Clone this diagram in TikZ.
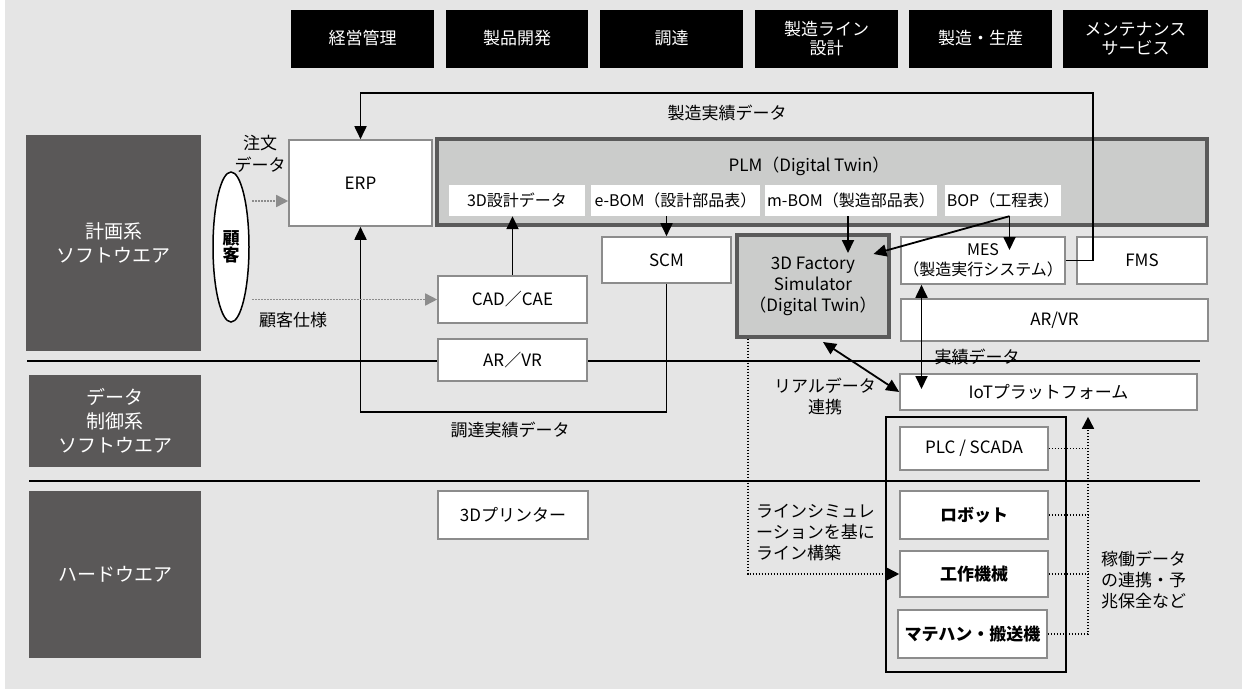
\documentclass[tikz,border=0pt]{standalone}
\usepackage{fontspec}
\setmainfont{Noto Sans CJK JP}
\usetikzlibrary{arrows.meta,shapes.geometric}
\definecolor{bg}{HTML}{E5E5E5}
\definecolor{darkbox}{HTML}{5A5858}
\definecolor{boxgray}{HTML}{8C8C8C}
\definecolor{plmfill}{HTML}{CBCCCB}
\definecolor{plmborder}{HTML}{5A5A5A}
\begin{document}
\begin{tikzpicture}[x=1pt,y=-1pt,
  every node/.style={inner sep=0pt, font=\fontsize{17}{21}\selectfont},
  hbox/.style={fill=black, text=white, minimum height=58, align=center, font=\fontsize{17}{19}\selectfont},
  lbox/.style={fill=darkbox, text=white, align=center, font=\fontsize{19}{24}\selectfont},
  wbox/.style={draw=boxgray, line width=1.6pt, fill=white, align=center},
  sbox/.style={fill=white, minimum height=31, align=center, font=\fontsize{16}{19}\selectfont},
  plmbox/.style={draw=plmborder, line width=3.2pt, fill=plmfill, align=center},
  divline/.style={line width=1.4pt, black},
  conn/.style={line width=1.8pt, black, -{Triangle[length=13pt,width=12pt]}},
  dconn/.style={line width=1.8pt, black, {Triangle[length=13pt,width=12pt]}-{Triangle[length=13pt,width=12pt]}},
  gdot/.style={line width=1.6pt, boxgray, dash pattern=on 1.6pt off 1.4pt, -{Triangle[length=12pt,width=12pt]}},
  bdot/.style={line width=1.6pt, black, dash pattern=on 1.6pt off 1.4pt},
  bdotarrow/.style={bdot, -{Triangle[length=12pt,width=12pt]}},
  lbl/.style={align=center}
]
\useasboundingbox (0,0) rectangle (1242,689);
\fill[bg] (5,0) rectangle (1242,689);

% header
\node[hbox, minimum width=143] (h1) at (362.5,38.5) {経営管理};
\node[hbox, minimum width=142] (h2) at (517,38.5) {製品開発};
\node[hbox, minimum width=143] (h3) at (671.5,38.5) {調達};
\node[hbox, minimum width=143] (h4) at (826.5,38.5) {製造ライン\\設計};
\node[hbox, minimum width=143] (h5) at (980.5,38.5) {製造・生産};
\node[hbox, minimum width=145] (h6) at (1135.5,38.5) {メンテナンス\\サービス};

% left category boxes
\node[lbox, minimum width=175, minimum height=216] (L1) at (113.5,243) {計画系\\ソフトウエア};
\node[lbox, minimum width=172, minimum height=92] (L2) at (115,421) {データ\\制御系\\ソフトウエア};
\node[lbox, minimum width=172, minimum height=167] (L3) at (115,574.5) {ハードウエア};

% divider lines
\draw[divline] (27,361) -- (1200,361);
\draw[divline] (29,481) -- (1200,481);

% planning boxes
\node[wbox, minimum width=143, minimum height=86] (ERP) at (360.5,183) {ERP};
\node[plmbox, minimum width=770, minimum height=86] (PLM) at (822,182) {};
\node (plmt) at (809,166) {PLM（Digital Twin）};
\node[sbox, minimum width=136] (d3) at (517,200.5) {3D設計データ};
\node[sbox, minimum width=169] (eBOM) at (675.5,200.5) {e-BOM（設計部品表）};
\node[sbox, minimum width=172] (mBOM) at (851,200.5) {m-BOM（製造部品表）};
\node[sbox, minimum width=116] (BOP) at (1003,200.5) {BOP（工程表）};

\node[wbox, minimum width=129, minimum height=46] (SCM) at (666.5,260) {SCM};
\node[plmbox, minimum width=152, minimum height=102] (sim) at (813,286) {3D Factory\\Simulator\\（Digital Twin）};
\node[wbox, minimum width=164, minimum height=47, font=\fontsize{16}{20}\selectfont] (MES) at (983,260.5) {MES\\（製造実行システム）};
\node[wbox, minimum width=130, minimum height=47] (FMS) at (1142,260.5) {FMS};
\node[wbox, minimum width=307, minimum height=42] (arvr2) at (1054.5,320) {AR/VR};
\node[wbox, minimum width=149, minimum height=47] (CAD) at (512.5,299.5) {CAD／CAE};
\node[wbox, minimum width=149, minimum height=42] (arvr1) at (512.5,360) {AR／VR};
\node[wbox, minimum width=150, minimum height=48] (prn) at (513,515) {3Dプリンター};

% data / hardware
\node[wbox, minimum width=297, minimum height=36] (IoT) at (1048.5,392) {IoTプラットフォーム};
\node[draw=black, line width=1.8pt, minimum width=180, minimum height=255] (cont) at (976,544.5) {};
\node[wbox, minimum width=148, minimum height=43] (plc) at (974,448.5) {PLC / SCADA};
\node[wbox, minimum width=148, minimum height=48] (robo) at (974,515) {\bfseries ロボット};
\node[wbox, minimum width=148, minimum height=46] (koj) at (974,574) {\bfseries 工作機械};
\node[wbox, minimum width=149, minimum height=48] (mh) at (972.5,634) {\bfseries マテハン・搬送機};

% customer
\node[draw=black, ellipse, fill=white, line width=1.5pt, minimum width=36, minimum height=150, align=center, font=\fontsize{17}{17}\selectfont\bfseries] (cust) at (231,247) {顧\\客};

% labels
\node[lbl] (lb1) at (727,113) {製造実績データ};
\node[lbl] (lb2) at (510,430) {調達実績データ};
\node[lbl, font=\fontsize{17}{22}\selectfont] (lb3) at (260,154) {注文\\データ};
\node[lbl] (lb4) at (293,320) {顧客仕様};
\node[lbl] (lb5) at (977,357) {実績データ};
\node[lbl] (lb6) at (825,396) {リアルデータ\\連携};
\node[align=left, anchor=west] (lb7) at (756,533) {ラインシミュレ\\ーションを基に\\ライン構築};
\node[align=left, anchor=west] (lb8) at (1101,580) {稼働データ\\の連携・予\\兆保全など};

% connectors
\coordinate (c1) at (1093,93);
\draw[conn] (MES.east) -| (c1) -| (ERP.north);
\coordinate (c2) at (0,412);
\draw[conn] (SCM.south) |- (ERP.south |- c2) -- (ERP.south);
\draw[conn] (CAD.north) -- (CAD.north |- d3.south);
\draw[conn] (SCM.north |- eBOM.south) -- (SCM.north);
\coordinate (t1) at (848,253);
\draw[conn] (mBOM.south -| t1) -- (t1);
\coordinate (t2) at (1009.5,250);
\coordinate (t3) at (873.5,254);
\draw[conn] (BOP.south -| t2) -- (t2);
\draw[conn] (BOP.south -| t2) -- (t3);
\coordinate (t4) at (921.5,389);
\draw[dconn] (MES.south -| t4) -- (t4);
\coordinate (t5) at (823,342);
\draw[dconn] (t5) -- (IoT.west);

\coordinate (g1) at (252,201);
\draw[gdot] (g1) -- (g1 -| ERP.west);
\draw[gdot] (g1 |- CAD.west) -- (CAD.west);

\coordinate (c3) at (748,0);
\draw[bdotarrow] (sim.south -| c3) |- (koj.west);
\coordinate (c4) at (1088,0);
\draw[bdot] (plc.east) -- (plc.east -| c4);
\draw[bdot] (robo.east) -- (robo.east -| c4);
\draw[bdot] (koj.east) -- (koj.east -| c4);
\draw[bdotarrow, shorten >=6pt] (mh.east) -| (IoT.south -| c4);
\end{tikzpicture}
\end{document}
